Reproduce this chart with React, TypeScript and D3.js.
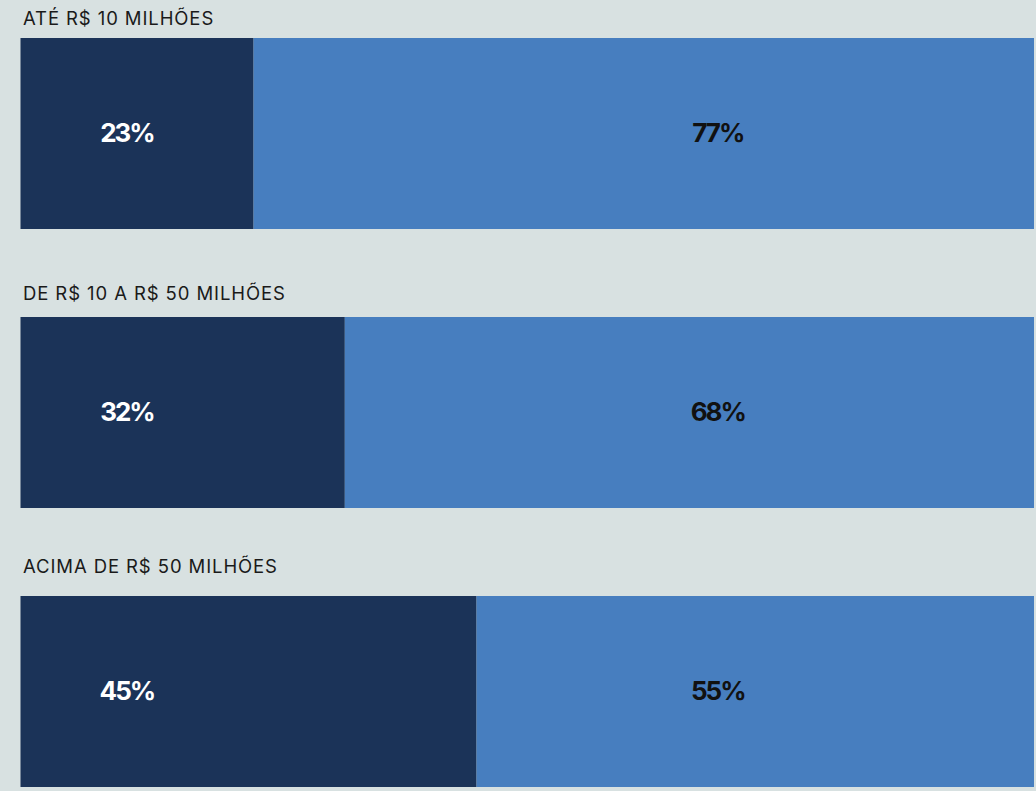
import React from "react";
import * as d3 from "d3";

const categories = ["ATÉ R$ 10 MILHÕES", "DE R$ 10 A R$ 50 MILHÕES", "ACIMA DE R$ 50 MILHÕES"];
const darkShare = [23, 32, 45];
const lightShare = [77, 68, 55];

const W = 1036;
const H = 791;
const BG = "#d8e1e1";
const DARK = "#1b3358";
const LIGHT = "#477ebf";
// baseline gap between each row's title and its bar
const titleGap = [13, 17, 23];

export default function App() {
  const x = d3.scaleLinear().domain([0, 100]).range([20.5, 1034]);
  const y = d3.scaleBand<string>().domain(categories).range([38, 38 + 279 * 3]).padding(0);
  const barH = 191;

  return (
    <div style={{ position: "fixed", left: 0, top: 0, width: W, height: H, background: BG }}>
      <svg width={W} height={H} style={{ display: "block" }} fontFamily="Inter, 'Noto Sans', sans-serif">
        {categories.map((c, i) => {
          const y0 = y(c) as number;
          const xd = x(darkShare[i]);
          return (
            <g key={c}>
              <text x={23} y={y0 - titleGap[i]} fontSize={18.5} letterSpacing={0.9} fill="#1a1a1a">
                {c}
              </text>
              <rect x={x(0)} y={y0} width={xd - x(0)} height={barH} fill={DARK} />
              <rect x={xd} y={y0} width={x(darkShare[i] + lightShare[i]) - xd} height={barH} fill={LIGHT} />
              <text
                x={x(10.5)}
                y={y0 + barH / 2}
                dy="0.34em"
                textAnchor="middle"
                fontSize={26}
                fontWeight={700}
                letterSpacing={-2}
                fill="#ffffff"
              >
                {darkShare[i]}%
              </text>
              <text
                x={x(68.8)}
                y={y0 + barH / 2}
                dy="0.34em"
                textAnchor="middle"
                fontSize={26}
                fontWeight={700}
                letterSpacing={-2}
                fill="#111111"
              >
                {lightShare[i]}%
              </text>
            </g>
          );
        })}
      </svg>
    </div>
  );
}
